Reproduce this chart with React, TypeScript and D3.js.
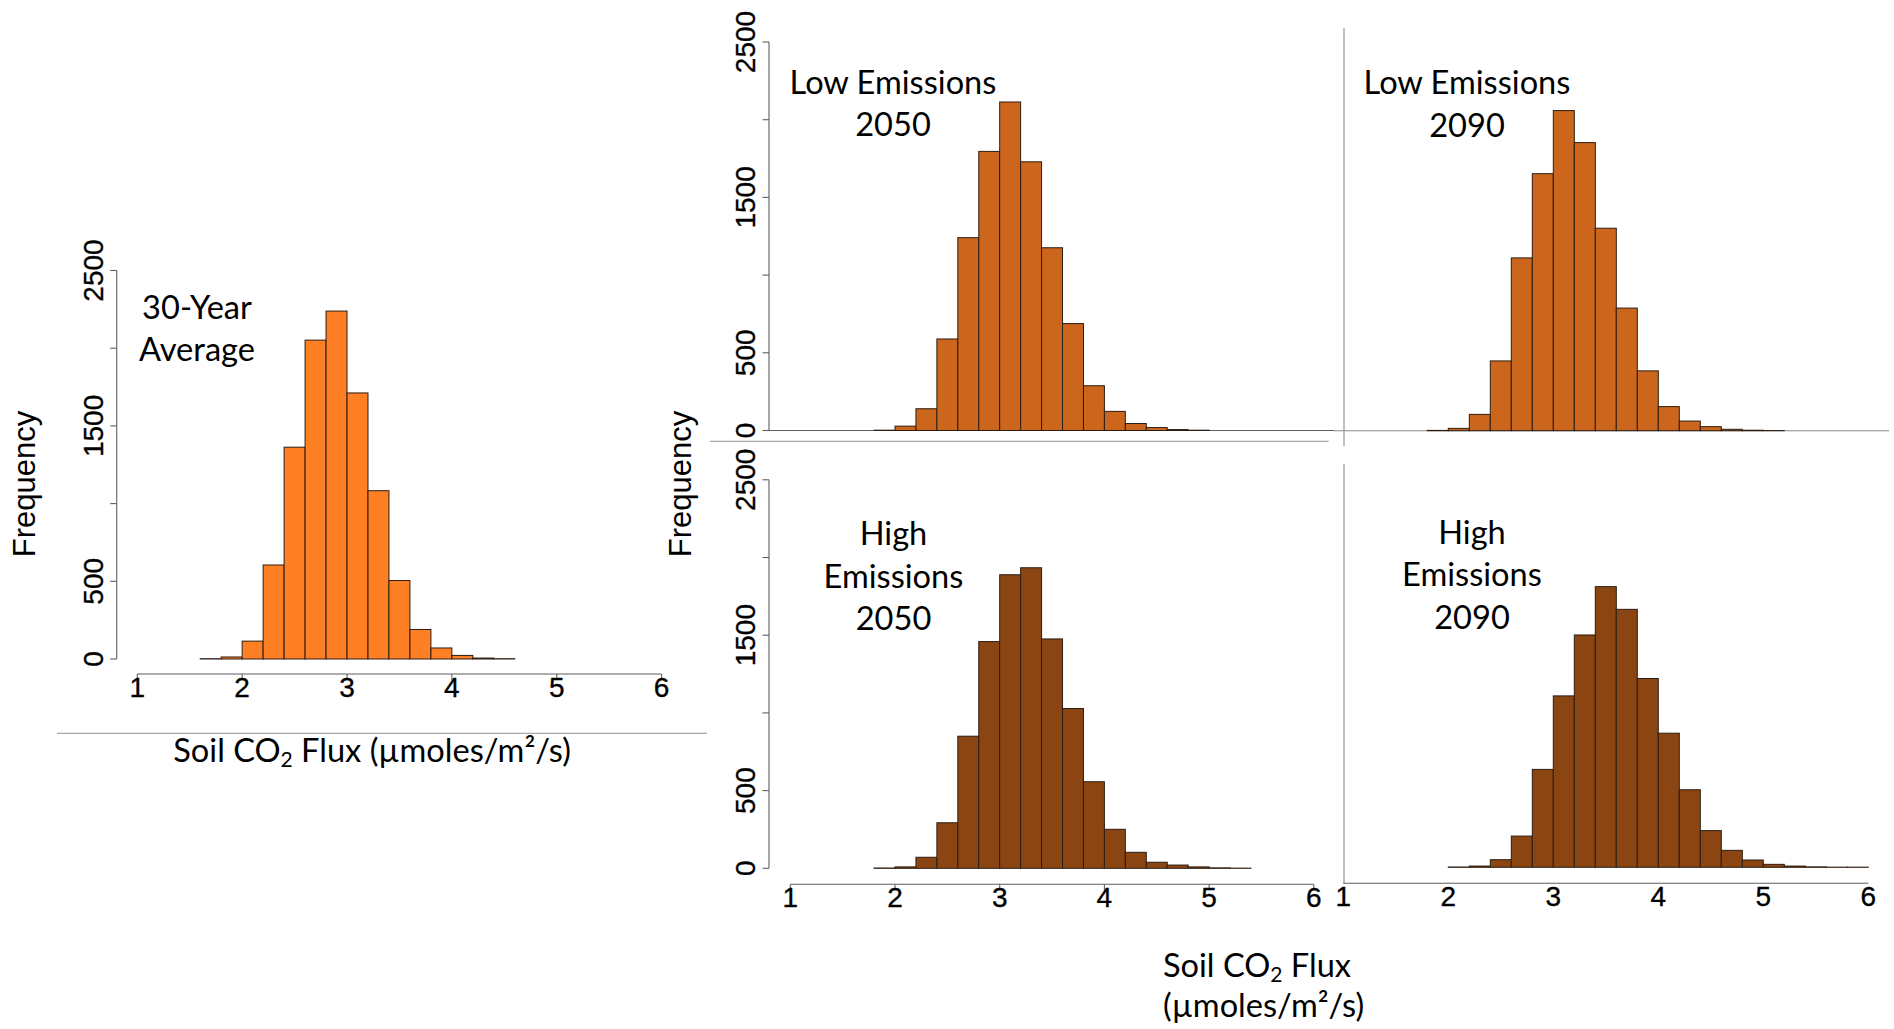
import React from 'react';
import * as d3 from 'd3';

// ---------- data ----------
const binWidth = 0.2;
const xTickValues = [1, 2, 3, 4, 5, 6];
const yTickValues = [0, 500, 1000, 1500, 2000, 2500];
const yTickLabels = ['0', '500', '', '1500', '', '2500'];

const avg30Start = 1.6;
const avg30Counts = [2, 13, 115, 605, 1363, 2052, 2239, 1712, 1083, 505, 190, 71, 23, 6, 2];

const low2050Start = 1.8;
const low2050Counts = [2, 28, 140, 589, 1241, 1796, 2114, 1729, 1176, 688, 288, 123, 45, 19, 6, 2];

const low2090Start = 1.8;
const low2090Counts = [2, 15, 105, 449, 1112, 1654, 2060, 1854, 1303, 789, 385, 155, 62, 26, 9, 3, 1];

const high2050Start = 1.8;
const high2050Counts = [2, 9, 71, 293, 850, 1459, 1889, 1934, 1476, 1028, 557, 251, 103, 39, 21, 9, 3, 1];

const high2090Start = 2.0;
const high2090Counts = [2, 8, 49, 201, 630, 1103, 1495, 1806, 1660, 1215, 863, 499, 236, 109, 47, 19, 8, 3, 1, 1];

const avgLabel = ['30-Year', 'Average'];
const low2050Label = ['Low Emissions', '2050'];
const low2090Label = ['Low Emissions', '2090'];
const high2050Label = ['High', 'Emissions', '2050'];
const high2090Label = ['High', 'Emissions', '2090'];
const yTitle = 'Frequency';

// ---------- styles ----------
const C_AVG = '#FF7F24';
const C_LOW = '#CD661D';
const C_HIGH = '#8B4513';
const BAR_STROKE = '#2b1d12';
const AXIS = '#5e5e5e';
const DECO = '#a8a8a8';
const SANS = '"Liberation Sans", Arial, sans-serif';
const CAL = 'Lato, "Open Sans", sans-serif';
const ANN_SIZE = 32.6;
const TICK_SIZE = 28;

type PanelCfg = {
  key: string;
  start: number;
  counts: number[];
  color: string;
  x1: number; x6: number;
  y0: number; yTop: number;
  yAxisX?: number;
  xAxisY?: number;
  xTicks?: boolean;
  label: string[];
  labelX: number;
  labelY0: number;
};

const panels: PanelCfg[] = [
  { key: 'avg', start: avg30Start, counts: avg30Counts, color: C_AVG, x1: 137.3, x6: 661.6, y0: 659, yTop: 270.5, yAxisX: 116.7, xAxisY: 674, xTicks: true, label: avgLabel, labelX: 197, labelY0: 318.5 },
  { key: 'l50', start: low2050Start, counts: low2050Counts, color: C_LOW, x1: 790.3, x6: 1313.8, y0: 430.5, yTop: 42, yAxisX: 769, label: low2050Label, labelX: 893, labelY0: 93.5 },
  { key: 'l90', start: low2090Start, counts: low2090Counts, color: C_LOW, x1: 1343.3, x6: 1868.3, y0: 430.7, yTop: 42.2, label: low2090Label, labelX: 1467, labelY0: 94 },
  { key: 'h50', start: high2050Start, counts: high2050Counts, color: C_HIGH, x1: 790.3, x6: 1313.8, y0: 868.3, yTop: 479.8, yAxisX: 769, xAxisY: 884.3, xTicks: true, label: high2050Label, labelX: 893.5, labelY0: 545 },
  { key: 'h90', start: high2090Start, counts: high2090Counts, color: C_HIGH, x1: 1343.3, x6: 1868.3, y0: 867.3, yTop: 478.8, xAxisY: 883.3, xTicks: false, label: high2090Label, labelX: 1472, labelY0: 543.5 },
];

function Panel({ p }: { p: PanelCfg }) {
  const xs = d3.scaleLinear().domain([1, 6]).range([p.x1, p.x6]);
  const ys = d3.scaleLinear().domain([0, 2500]).range([p.y0, p.yTop]);
  const bins = p.counts.map((c, i) => {
    const a = p.start + i * binWidth;
    return { a, b: a + binWidth, c };
  });
  return (
    <g>
      {bins.map((d, i) => (
        <rect
          key={i}
          x={xs(d.a)}
          y={ys(d.c)}
          width={xs(d.b) - xs(d.a)}
          height={Math.max(0.01, ys(0) - ys(d.c))}
          fill={p.color}
          stroke={BAR_STROKE}
          strokeWidth={1}
        />
      ))}
      {p.yAxisX !== undefined && (
        <g>
          <line x1={p.yAxisX} x2={p.yAxisX} y1={ys(0)} y2={ys(2500)} stroke={AXIS} strokeWidth={1.1} />
          {yTickValues.map((v, i) => (
            <g key={v}>
              <line x1={p.yAxisX! - 6.5} x2={p.yAxisX} y1={ys(v)} y2={ys(v)} stroke={AXIS} strokeWidth={1.1} />
              {yTickLabels[i] && (
                <text
                  transform={`translate(${p.yAxisX! - 14},${ys(v)}) rotate(-90)`}
                  textAnchor="middle"
                  fontFamily={SANS}
                  fontSize={TICK_SIZE}
                  fill="#000"
                  stroke="#000"
                  strokeWidth={0.35}
                >
                  {yTickLabels[i]}
                </text>
              )}
            </g>
          ))}
        </g>
      )}
      {p.xAxisY !== undefined && (
        <g>
          <line x1={xs(1)} x2={xs(6)} y1={p.xAxisY} y2={p.xAxisY} stroke={AXIS} strokeWidth={1.1} />
          {xTickValues.map((v) => (
            <g key={v}>
              {p.xTicks && (
                <line x1={xs(v)} x2={xs(v)} y1={p.xAxisY} y2={p.xAxisY! + 6} stroke={AXIS} strokeWidth={1.1} />
              )}
              <text
                x={xs(v)}
                y={p.xAxisY! + 22.8}
                textAnchor="middle"
                fontFamily={SANS}
                fontSize={TICK_SIZE}
                fill="#000"
                stroke="#000"
                strokeWidth={0.35}
              >
                {v}
              </text>
            </g>
          ))}
        </g>
      )}
      {p.label.map((t, i) => (
        <text key={i} x={p.labelX} y={p.labelY0 + i * 42.6} textAnchor="middle" fontFamily={CAL} fontSize={ANN_SIZE} fill="#000">
          {t}
        </text>
      ))}
    </g>
  );
}

function FluxTitle({ x, y, twoLines }: { x: number; y: number; twoLines?: boolean }) {
  if (twoLines) {
    return (
      <g fontFamily={CAL} fontSize={ANN_SIZE} fill="#000">
        <text x={x} y={y}>
          Soil CO<tspan fontSize={21} dy={5}>2</tspan>
          <tspan dy={-5}> Flux</tspan>
        </text>
        <text x={x} y={y + 40}>(µmoles/m²/s)</text>
      </g>
    );
  }
  return (
    <text x={x} y={y} fontFamily={CAL} fontSize={ANN_SIZE} fill="#000">
      Soil CO<tspan fontSize={21} dy={5}>2</tspan>
      <tspan dy={-5}> Flux (µmoles/m²/s)</tspan>
    </text>
  );
}

export default function App() {
  return (
    <svg
      width={1894}
      height={1029}
      viewBox="0 0 1894 1029"
      style={{ position: 'absolute', left: 0, top: 0, background: '#fff' }}
    >
      <rect x={0} y={0} width={1894} height={1029} fill="#fff" />
      {/* decorative lines */}
      <line x1={57} x2={707} y1={733.3} y2={733.3} stroke={DECO} strokeWidth={1.2} />
      <line x1={710} x2={1328.7} y1={441.3} y2={441.3} stroke={DECO} strokeWidth={1.2} />
      <line x1={764} x2={1334} y1={430.5} y2={430.5} stroke={AXIS} strokeWidth={1.1} />
      <line x1={1334} x2={1889} y1={430.7} y2={430.7} stroke="#8a8a8a" strokeWidth={1.1} />
      <line x1={1344} x2={1344} y1={28} y2={446} stroke="#8a8a8a" strokeWidth={1.1} />
      <line x1={1344} x2={1344} y1={464} y2={883.3} stroke="#8a8a8a" strokeWidth={1.1} />

      {panels.map((p) => (
        <Panel key={p.key} p={p} />
      ))}

      <text transform="translate(35,484) rotate(-90)" textAnchor="middle" fontFamily={SANS} fontSize={31} fill="#000">
        {yTitle}
      </text>
      <text transform="translate(691,484) rotate(-90)" textAnchor="middle" fontFamily={SANS} fontSize={31} fill="#000">
        {yTitle}
      </text>

      <FluxTitle x={173.3} y={762} />
      <FluxTitle x={1163} y={976.7} twoLines />
    </svg>
  );
}
